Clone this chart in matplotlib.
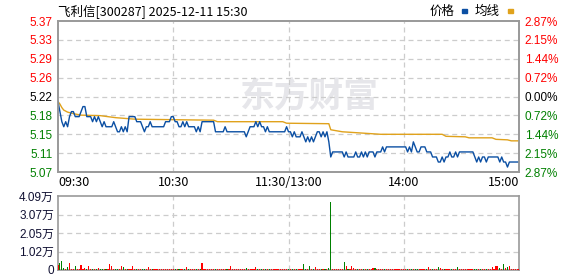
import numpy as np
import matplotlib
matplotlib.use("Agg")
import matplotlib.pyplot as plt
from matplotlib.patches import Rectangle

plt.rcParams['font.family'] = ['Liberation Sans', 'Noto Sans CJK SC', 'DejaVu Sans']

# ---- data ----
title = "飞利信[300287] 2025-12-11 15:30"
prev_close = 5.22
price_ticks = [5.37, 5.33, 5.29, 5.26, 5.22, 5.18, 5.15, 5.11, 5.07]
pct_labels = ["2.87%", "2.15%", "1.44%", "0.72%", "0.00%", "0.72%", "1.44%", "2.15%", "2.87%"]
time_labels = ["09:30", "10:30", "11:30/13:00", "14:00", "15:00"]
time_pos = [0, 60, 120, 180, 240]
vol_labels = ["0", "1.02万", "2.05万", "3.07万", "4.09万"]
vol_max = 40900

price = [
    5.21, 5.19, 5.17, 5.16, 5.17, 5.16, 5.18, 5.19, 5.19, 5.18, 5.18, 5.18, 5.19, 5.20, 5.20, 5.18, 5.18, 5.18, 5.17, 5.18,
    5.17, 5.18, 5.17, 5.16, 5.17, 5.16, 5.16, 5.16, 5.16, 5.17, 5.16, 5.15, 5.15, 5.16, 5.15, 5.16, 5.15, 5.18, 5.18, 5.18,
    5.18, 5.17, 5.17, 5.17, 5.16, 5.15, 5.16, 5.16, 5.17, 5.16, 5.16, 5.16, 5.16, 5.16, 5.16, 5.16, 5.17, 5.17, 5.17, 5.18,
    5.18, 5.17, 5.17, 5.16, 5.16, 5.17, 5.16, 5.17, 5.16, 5.16, 5.16, 5.16, 5.15, 5.16, 5.15, 5.17, 5.17, 5.17, 5.17, 5.17,
    5.17, 5.17, 5.15, 5.15, 5.15, 5.15, 5.15, 5.16, 5.15, 5.15, 5.15, 5.15, 5.15, 5.15, 5.15, 5.15, 5.15, 5.15, 5.14, 5.15,
    5.16, 5.16, 5.16, 5.17, 5.16, 5.17, 5.16, 5.16, 5.15, 5.16, 5.15, 5.15, 5.15, 5.15, 5.15, 5.15, 5.15, 5.15, 5.15, 5.16,
    5.15, 5.15, 5.14, 5.15, 5.14, 5.14, 5.14, 5.15, 5.14, 5.13, 5.14, 5.13, 5.14, 5.13, 5.14, 5.15, 5.15, 5.14, 5.15, 5.14,
    5.15, 5.13, 5.10, 5.11, 5.11, 5.11, 5.11, 5.11, 5.11, 5.10, 5.11, 5.10, 5.10, 5.10, 5.10, 5.11, 5.10, 5.10, 5.11, 5.10,
    5.11, 5.10, 5.11, 5.11, 5.11, 5.10, 5.11, 5.11, 5.11, 5.12, 5.11, 5.12, 5.12, 5.12, 5.12, 5.12, 5.12, 5.12, 5.12, 5.12,
    5.12, 5.12, 5.11, 5.12, 5.11, 5.13, 5.12, 5.11, 5.11, 5.12, 5.12, 5.12, 5.11, 5.11, 5.11, 5.10, 5.10, 5.10, 5.09, 5.09,
    5.10, 5.09, 5.10, 5.10, 5.11, 5.10, 5.10, 5.11, 5.10, 5.11, 5.11, 5.11, 5.11, 5.11, 5.11, 5.11, 5.11, 5.10, 5.09, 5.10,
    5.09, 5.10, 5.10, 5.09, 5.10, 5.10, 5.10, 5.10, 5.10, 5.10, 5.09, 5.10, 5.09, 5.09, 5.08, 5.09, 5.09, 5.09, 5.09, 5.09, 5.09,
]

avg_min = [0, 1, 2, 3, 5, 8, 12, 22, 30, 40, 60, 81, 83, 117, 119, 141, 142, 148, 160, 168,
           200, 202, 212, 214, 226, 228, 234, 236, 240]
avg_val = [5.21, 5.205, 5.198, 5.193, 5.189, 5.186, 5.183, 5.182, 5.178, 5.175, 5.174, 5.173, 5.170, 5.170, 5.167,
           5.166, 5.154, 5.150, 5.147, 5.145, 5.145, 5.141, 5.140, 5.138, 5.138, 5.135, 5.134, 5.132, 5.132]

volume = [
    3000, 4050, 5150, 1100, 700, 1840, 3860, 600, 500, 2200, 600, 500, 2760, 500, 1100, 600, 2200, 500, 400, 500,
    600, 1100, 500, 400, 600, 400, 500, 3300, 2200, 500, 400, 500, 400, 2200, 1500, 500, 600, 500, 400, 2200,
    500, 400, 500, 400, 600, 500, 400, 1660, 500, 400, 500, 600, 400, 500, 400, 500, 600, 400, 500, 400,
    500, 400, 600, 500, 400, 500, 400, 1660, 500, 400, 500, 400, 600, 500, 400, 4050, 500, 400, 500, 600,
    400, 500, 400, 500, 600, 400, 500, 400, 500, 400, 2200, 500, 400, 600, 500, 400, 500, 400, 1100, 500,
    400, 500, 600, 1660, 500, 400, 500, 400, 600, 500, 400, 500, 400, 500, 600, 400, 500, 400, 500, 400,
    700, 500, 400, 500, 600, 400, 500, 400, 3300, 500, 400, 2200, 500, 400, 1660, 500, 400, 500, 600, 400,
    500, 1100, 37500, 500, 400, 600, 500, 400, 500, 4400, 2200, 500, 400, 2200, 1100, 500, 400, 500, 600, 400,
    500, 400, 500, 400, 1100, 1100, 500, 400, 600, 500, 400, 500, 400, 500, 600, 400, 500, 400, 500, 400,
    500, 600, 400, 500, 400, 500, 600, 400, 500, 400, 500, 400, 500, 1660, 400, 500, 400, 600, 1660, 1100,
    500, 400, 500, 400, 600, 500, 400, 500, 1660, 400, 500, 600, 400, 500, 400, 500, 600, 400, 500, 400,
    500, 400, 600, 500, 400, 500, 1660, 400, 2200, 2200, 1100, 500, 3300, 1100, 1660, 2200, 700, 700, 500, 500, 600,
]

BLUE = '#0b4fa3'
ORANGE = '#e0a21c'
RED = '#ff0000'
GREEN = '#008000'
BORDER = '#999999'
GRID = '#cccccc'

fig = plt.figure(figsize=(5.78, 2.76), dpi=100)
W, H = 578, 276

def box(l, t, r, b):
    return [l / W, 1 - b / H, (r - l) / W, (b - t) / H]

ax = fig.add_axes(box(58, 21, 519, 172))
axv = fig.add_axes(box(58, 196, 519, 270))

x = np.arange(len(price))
lo = prev_close * (1 - 0.0287)
hi = prev_close * (1 + 0.0287)

ax.plot(avg_min, avg_val, color=ORANGE, lw=1.0, zorder=3)
ax.plot(x, price, color=BLUE, lw=1.0, zorder=4)
ax.set_xlim(0, 240)
ax.set_ylim(lo, hi)

tick_vals = np.linspace(hi, lo, 9)
ax.set_yticks(tick_vals)
ax.set_yticklabels([f"{v:.2f}" for v in price_ticks], fontsize=8.5)
for i, lab in enumerate(ax.get_yticklabels()):
    lab.set_color(RED if i < 4 else ('black' if i == 4 else GREEN))
ax.tick_params(axis='y', length=0, pad=4)

axr = ax.twinx()
axr.set_ylim(lo, hi)
axr.set_yticks(tick_vals)
axr.set_yticklabels(pct_labels, fontsize=8.5)
for i, lab in enumerate(axr.get_yticklabels()):
    lab.set_color(RED if i < 4 else ('black' if i == 4 else GREEN))
axr.tick_params(axis='y', length=0, pad=4)

ax.set_xticks(time_pos)
ax.set_xticklabels(time_labels, fontsize=9, family=['Noto Sans CJK SC'])
labs = ax.get_xticklabels()
labs[0].set_ha('left')
labs[-1].set_ha('right')
ax.tick_params(axis='x', length=0, pad=3)

for v in tick_vals[1:-1]:
    ax.axhline(v, color=GRID, lw=0.9, ls=(0, (4, 3)), zorder=1)
for p in time_pos[1:-1]:
    ax.axvline(p, color=GRID, lw=0.9, ls=(0, (4, 3)), zorder=1)

for a in (ax, axr, axv):
    for s in a.spines.values():
        s.set_color(BORDER)
        s.set_linewidth(1.2)

# watermark
ax.text(0.545, 0.50, "东方财富", transform=ax.transAxes, ha='center', va='center',
        fontsize=25, fontweight='bold', color='#e6e6ea', family=['Noto Sans CJK SC'], zorder=0)

# volume
colors = [RED] + [GREEN if price[i] < price[i - 1] else RED for i in range(1, len(price))]
axv.bar(x, volume, width=0.6, color=colors, linewidth=0, zorder=3)
axv.set_xlim(0, 240)
axv.set_ylim(0, vol_max)
vt = np.linspace(0, vol_max, 5)
axv.set_yticks(vt)
axv.set_yticklabels(vol_labels, fontsize=8.5, color='#111133')
axv.tick_params(axis='y', length=0, pad=3)
axv.set_xticks([])
for v in vt[1:-1]:
    axv.axhline(v, color=GRID, lw=0.9, ls=(0, (4, 3)), zorder=1)
for p in time_pos[1:-1]:
    axv.axvline(p, color=GRID, lw=0.9, ls=(0, (4, 3)), zorder=1)

# title and legend
fig.text(58 / W, 1 - 11 / H, title, fontsize=9, va='center', ha='left', family=['Noto Sans CJK SC'])
fig.text(455 / W, 1 - 11 / H, "价格", fontsize=9, va='center', ha='right', family=['Noto Sans CJK SC'])
fig.text(500 / W, 1 - 11 / H, "均线", fontsize=9, va='center', ha='right', family=['Noto Sans CJK SC'])
fig.patches.append(Rectangle((462 / W, 1 - 12.5 / H), 5 / W, 3 / H, transform=fig.transFigure,
                             color=BLUE, figure=fig))
fig.patches.append(Rectangle((508 / W, 1 - 12.5 / H), 5 / W, 3 / H, transform=fig.transFigure,
                             color=ORANGE, figure=fig))

fig.savefig("out.png", dpi=100)
